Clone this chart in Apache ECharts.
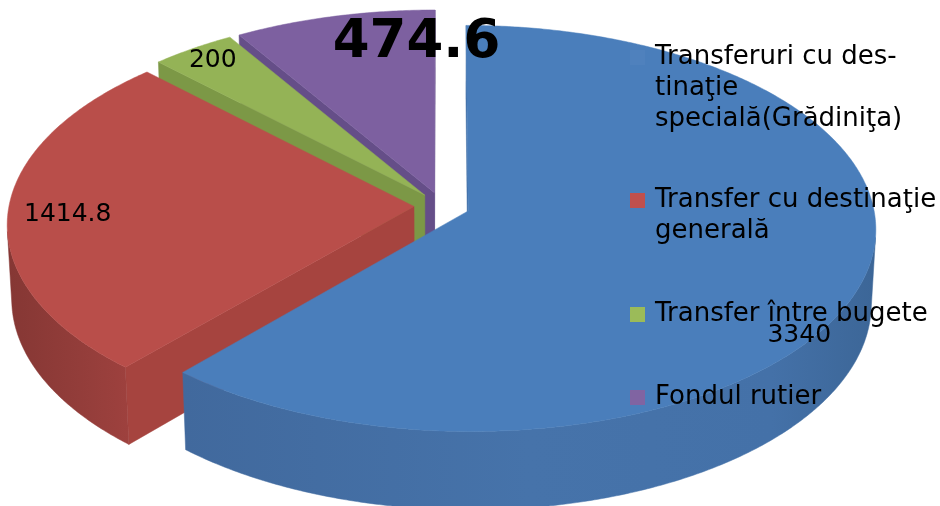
<!DOCTYPE html>
<html>
<head>
<meta charset="utf-8">
<script src="https://cdn.jsdelivr.net/npm/echarts@6/dist/echarts.min.js"></script>
<style>
html, body { margin: 0; padding: 0; background: #fff; }
#chartArea { width: 940px; height: 506px; }
</style>
</head>
<body>
<div id="chartArea"></div>
<script>
// data
var categories = [
    'Transferuri cu destinaţie specială(Grădiniţa)',
    'Transfer cu destinaţie generală',
    'Transfer între bugete',
    'Fondul rutier'
];
var legendLabels = [
    'Transferuri cu des-\ntinaţie\nspecială(Grădiniţa)',
    'Transfer cu destinaţie\ngenerală',
    'Transfer între bugete',
    'Fondul rutier'
];
var values = [3340, 1414.8, 200, 474.6];

// look of the 3d pie
var CX = 442, CY = 206, R = 405, H = 86, DIST = 4085, EXPLODE = 28;
var TILT = 29.7 * Math.PI / 180;
var SIN_T = Math.sin(TILT), COS_T = Math.cos(TILT);

var legendColors = ['#4f81bd', '#c0504d', '#9bbb59', '#8064a2'];
var topColors = ['#4a7ebb', '#b94e4a', '#94b356', '#7d60a0'];
var cutColors = ['#4270a8', '#a6443f', '#7c9846', '#654e88'];
var wallStops = [
    [[0, '#41699d'], [0.5, '#4673aa'], [0.85, '#4471a8'], [1, '#3c6697']],
    [[0, '#853734'], [0.6, '#933d3a'], [1, '#9e413e']],
    [[0, '#7a9444'], [1, '#849f4b']],
    [[0, '#614a82'], [1, '#6a5190']]
];
var zOrder = [4, 3, 2, 1];
var labelShift = [[-21, 59], [19, 3], [-2, -2], [73, 10]];
var labelFonts = ['25px "DejaVu Sans"', '25px "DejaVu Sans"', '25px "DejaVu Sans"', 'bold 53px "DejaVu Sans"'];
var legendTops = [-20, 154, 299, 382];

function sliceAngles() {
    var total = values.reduce(function(a, b) { return a + b; }, 0);
    var acc = 0;
    return values.map(function(v) {
        var a1 = acc / total * Math.PI * 2;
        acc += v;
        return [a1, acc / total * Math.PI * 2];
    });
}

function project(u, v, h) {
    var up = v * SIN_T - h * COS_T;
    var depth = v * COS_T + h * SIN_T;
    var s = DIST / (DIST + depth);
    return [CX + u * s, CY - up * s];
}

// is a vertical face at (u, v) with normal (nu, nv) turned to the eye
function facing(u, v, nu, nv) {
    return -u * nu + (-DIST * COS_T - v) * nv > 0;
}

function renderSlice(i) {
    return function(params, api) {
        var ang = sliceAngles()[i];
        var a1 = ang[0], a2 = ang[1], mid = (a1 + a2) / 2;
        var du = EXPLODE * Math.sin(mid), dv = EXPLODE * Math.cos(mid);
        var steps = Math.max(2, Math.ceil((a2 - a1) / (Math.PI / 360)));
        var arc = [];
        for (var k = 0; k <= steps; k++) {
            var t = a1 + (a2 - a1) * k / steps;
            arc.push([du + R * Math.sin(t), dv + R * Math.cos(t), t]);
        }
        var z = zOrder[i] * 10;
        var children = [];

        [[a1, -Math.cos(a1), Math.sin(a1)], [a2, Math.cos(a2), -Math.sin(a2)]].forEach(function(f) {
            if (!facing(du, dv, f[1], f[2])) return;
            var ou = du + R * Math.sin(f[0]), ov = dv + R * Math.cos(f[0]);
            children.push({
                type: 'polygon', z2: z,
                shape: { points: [project(du, dv, 0), project(ou, ov, 0), project(ou, ov, H), project(du, dv, H)] },
                style: { fill: cutColors[i], stroke: cutColors[i], lineWidth: 0.5 }
            });
        });

        var wallTop = [], wallBottom = [];
        arc.forEach(function(p) {
            if (facing(p[0], p[1], Math.sin(p[2]), Math.cos(p[2]))) {
                wallTop.push(project(p[0], p[1], 0));
                wallBottom.push(project(p[0], p[1], H));
            }
        });
        if (wallTop.length > 1) {
            var grad = new echarts.graphic.LinearGradient(0, 0, 1, 0,
                wallStops[i].map(function(s) { return { offset: s[0], color: s[1] }; }));
            children.push({
                type: 'polygon', z2: z + 1,
                shape: { points: wallTop.concat(wallBottom.reverse()) },
                style: { fill: grad, stroke: grad, lineWidth: 0.5 }
            });
        }

        var topPts = [project(du, dv, 0)].concat(arc.map(function(p) { return project(p[0], p[1], 0); }));
        children.push({
            type: 'polygon', z2: z + 2,
            shape: { points: topPts },
            style: { fill: topColors[i], stroke: topColors[i], lineWidth: 0.5 }
        });
        return { type: 'group', children: children };
    };
}

function renderLabel(params, api) {
    var i = params.dataIndex;
    var ang = sliceAngles()[i];
    var mid = (ang[0] + ang[1]) / 2;
    var u = (EXPLODE + 0.9 * R) * Math.sin(mid);
    var v = (EXPLODE + 0.9 * R) * Math.cos(mid);
    var p = project(u, v, 0);
    return {
        type: 'text', z2: 200,
        style: {
            text: String(api.value(0)),
            x: p[0] + labelShift[i][0],
            y: p[1] + labelShift[i][1],
            fill: '#000',
            font: labelFonts[i],
            align: 'center',
            verticalAlign: 'middle'
        }
    };
}

var series = categories.map(function(name, i) {
    return {
        type: 'custom',
        name: name,
        coordinateSystem: 'none',
        silent: true,
        itemStyle: { color: legendColors[i] },
        data: [values[i]],
        renderItem: renderSlice(i)
    };
});
series.push({
    type: 'custom',
    name: 'labels',
    coordinateSystem: 'none',
    silent: true,
    data: values,
    renderItem: renderLabel
});

// legend icon sits on the first text line: pad with empty lines above
function legendText(i) {
    var lines = legendLabels[i].split('\n').length;
    return new Array(lines).join('\n') + legendLabels[i];
}

var myChart = echarts.init(document.getElementById('chartArea'));
myChart.setOption({
    animation: false,
    legend: categories.map(function(name, i) {
        return {
            data: [name],
            left: 630,
            top: legendTops[i],
            padding: 0,
            itemWidth: 15,
            itemHeight: 15,
            icon: 'rect',
            selectedMode: false,
            formatter: function() { return legendText(i); },
            textStyle: {
                fontFamily: 'DejaVu Sans',
                fontSize: 26,
                lineHeight: 31,
                color: '#000',
                padding: [0, 0, 0, 5]
            }
        };
    }),
    series: series
});
</script>
</body>
</html>
